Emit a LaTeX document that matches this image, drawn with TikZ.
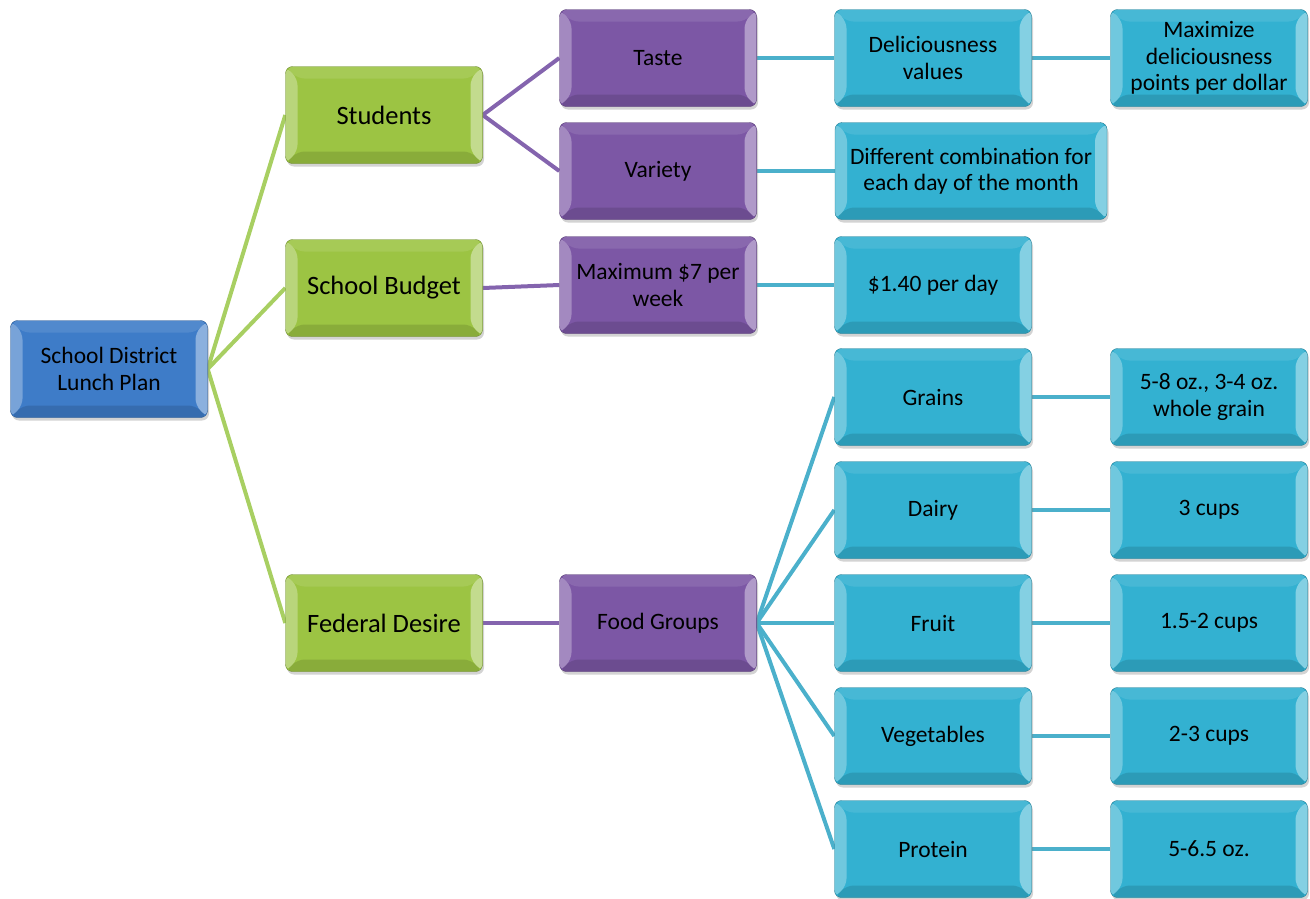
\documentclass[tikz,border=0pt]{standalone}
\usepackage{fontspec}
\setmainfont{Carlito}
\usetikzlibrary{positioning,shadows,backgrounds}
\definecolor{rootblue}{HTML}{3E7CC8}
\definecolor{leafgreen}{HTML}{9CC443}
\definecolor{plumpurple}{HTML}{7C57A5}
\definecolor{seateal}{HTML}{33B1D1}
\definecolor{greenline}{HTML}{A8CF62}
\definecolor{purpleline}{HTML}{8464AE}
\definecolor{tealline}{HTML}{4BB0CB}

\begin{document}
\begin{tikzpicture}[
    x=1pt,y=1pt,
    bevel/.style={path picture={
        \fill[white,opacity=.30] (path picture bounding box.north west) -- ++(12,-12) -- ([shift={(12,12)}]path picture bounding box.south west) -- (path picture bounding box.south west) -- cycle;
        \fill[white,opacity=.40] (path picture bounding box.north east) -- ++(-12,-12) -- ([shift={(-12,12)}]path picture bounding box.south east) -- (path picture bounding box.south east) -- cycle;
        \fill[black,opacity=.12] (path picture bounding box.south west) -- ++(12,12) -- ([shift={(-12,12)}]path picture bounding box.south east) -- (path picture bounding box.south east) -- cycle;
        \fill[white,opacity=.10] (path picture bounding box.north west) -- ++(12,-12) -- ([shift={(-12,-12)}]path picture bounding box.north east) -- (path picture bounding box.north east) -- cycle;
    }},
    box/.style={rectangle,rounded corners=7pt,minimum width=197pt,minimum height=97pt,align=center,inner sep=2pt,
        font=\fontsize{23.5}{26.5}\selectfont,bevel,drop shadow={opacity=.35,shadow xshift=1.5pt,shadow yshift=-3pt}},
    rootbox/.style={box,fill=rootblue,draw=rootblue!70!black},
    greenbox/.style={box,fill=leafgreen,draw=leafgreen!70!black,font=\fontsize{26.5}{30}\selectfont},
    purplebox/.style={box,fill=plumpurple,draw=plumpurple!70!black},
    tealbox/.style={box,fill=seateal,draw=seateal!70!black},
    link/.style={line width=4pt}
]
    \useasboundingbox (0,0) rectangle (1310,-898);

    \node[rootbox] (plan) at (109,-369) {School District\\Lunch Plan};

    \node[greenbox] (students) at (384,-115) {Students};
    \node[greenbox] (budget) at (384,-288) {School Budget};
    \node[greenbox] (federal) at (384,-623) {Federal Desire};

    \node[purplebox] (taste) at (658,-58) {Taste};
    \node[purplebox] (variety) at (658,-171) {Variety};
    \node[purplebox] (maxweek) at (658,-285) {Maximum \$7 per\\week};
    \node[purplebox] (groups) at (658,-623) {Food Groups};

    \node[tealbox] (delicious) at (933,-58) {Deliciousness\\values};
    \node[tealbox,minimum width=272pt] (combo) at (971,-171) {Different combination for\\each day of the month};
    \node[tealbox] (perday) at (933,-285) {\$1.40 per day};
    \node[tealbox] (grains) at (933,-397) {Grains};
    \node[tealbox] (dairy) at (933,-510) {Dairy};
    \node[tealbox] (fruit) at (933,-623) {Fruit};
    \node[tealbox] (veg) at (933,-736) {Vegetables};
    \node[tealbox] (protein) at (933,-849) {Protein};

    \node[tealbox] (maxpoints) at (1209,-58) {Maximize\\deliciousness\\points per dollar};
    \node[tealbox] (grainamt) at (1209,-397) {5-8 oz., 3-4 oz.\\whole grain};
    \node[tealbox] (dairyamt) at (1209,-510) {3 cups};
    \node[tealbox] (fruitamt) at (1209,-623) {1.5-2 cups};
    \node[tealbox] (vegamt) at (1209,-736) {2-3 cups};
    \node[tealbox] (proteinamt) at (1209,-849) {5-6.5 oz.};

    \begin{scope}[on background layer]
        \draw[link,greenline] (plan.east) -- (students.west);
        \draw[link,greenline] (plan.east) -- (budget.west);
        \draw[link,greenline] (plan.east) -- (federal.west);

        \draw[link,purpleline] (students.east) -- (taste.west);
        \draw[link,purpleline] (students.east) -- (variety.west);
        \draw[link,purpleline] (budget.east) -- (maxweek.west);
        \draw[link,purpleline] (federal.east) -- (groups.west);

        \draw[link,tealline] (taste.east) -- (delicious.west);
        \draw[link,tealline] (variety.east) -- (combo.west);
        \draw[link,tealline] (maxweek.east) -- (perday.west);
        \draw[link,tealline] (groups.east) -- (grains.west);
        \draw[link,tealline] (groups.east) -- (dairy.west);
        \draw[link,tealline] (groups.east) -- (fruit.west);
        \draw[link,tealline] (groups.east) -- (veg.west);
        \draw[link,tealline] (groups.east) -- (protein.west);

        \draw[link,tealline] (delicious.east) -- (maxpoints.west);
        \draw[link,tealline] (grains.east) -- (grainamt.west);
        \draw[link,tealline] (dairy.east) -- (dairyamt.west);
        \draw[link,tealline] (fruit.east) -- (fruitamt.west);
        \draw[link,tealline] (veg.east) -- (vegamt.west);
        \draw[link,tealline] (protein.east) -- (proteinamt.west);
    \end{scope}
\end{tikzpicture}
\end{document}
